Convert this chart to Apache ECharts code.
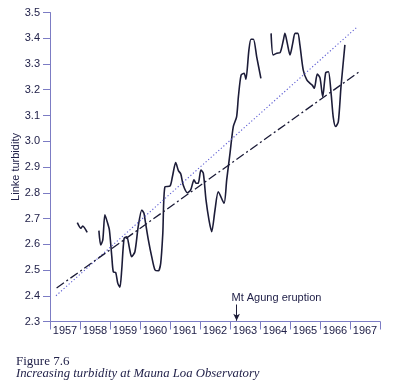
<!DOCTYPE html>
<html><head><meta charset="utf-8">
<script src="https://cdn.jsdelivr.net/npm/echarts@6/dist/echarts.min.js"></script>
<style>html,body{margin:0;padding:0;background:#fff}#c{width:403px;height:388px}</style>
</head><body><div id="c"></div>
<script>
var yearLabels = ['1957','1958','1959','1960','1961','1962','1963','1964','1965','1966','1967'];
var yTicks = [2.3,2.4,2.5,2.6,2.7,2.8,2.9,3.0,3.1,3.2,3.3,3.4,3.5];
// observed Linke turbidity (null = gap in record)
var obsYears = [1957.91,1958.03,1958.09,1958.24,1958.4,
 1958.63,1958.69,1958.76,1958.83,1958.91,1958.98,1959.06,1959.11,1959.19,1959.26,1959.33,1959.39,1959.47,1959.56,1959.64,1959.72,1959.83,1959.94,
 1960.06,1960.13,1960.17,1960.28,1960.39,1960.50,1960.61,1960.69,1960.76,1960.83,1961.00,1961.08,1961.19,1961.28,1961.36,1961.44,1961.58,1961.69,1961.80,1961.87,1961.94,
 1962.03,1962.11,1962.20,1962.30,1962.39,1962.50,1962.61,1962.80,1962.89,1963.00,1963.11,1963.22,1963.28,1963.37,1963.47,1963.53,1963.63,1963.70,1963.78,1963.89,1964.03,1964.2,
 1964.37,1964.44,1964.56,1964.67,1964.78,1964.83,1964.91,1965.00,1965.09,1965.17,1965.26,1965.33,1965.44,1965.56,1965.67,1965.74,1965.81,1965.91,1966.00,1966.09,1966.19,1966.28,1966.37,1966.44,1966.52,1966.61,1966.70,1966.83];
var obsValues = [2.684,2.662,2.671,2.646,null,
 2.653,2.597,2.617,2.714,2.686,2.655,2.552,2.493,2.490,2.448,2.433,2.500,2.623,2.629,2.590,2.552,2.571,2.668,
 2.733,2.721,2.694,2.616,2.552,2.500,2.497,2.526,2.642,2.823,2.826,2.862,2.917,2.886,2.873,2.830,2.800,2.811,2.850,2.837,2.837,
 2.888,2.876,2.772,2.694,2.649,2.733,2.804,2.759,2.850,2.953,3.057,3.095,3.173,3.257,3.264,3.241,3.354,3.396,3.396,3.328,3.244,null,
 3.419,3.335,3.342,3.344,3.393,3.419,3.380,3.335,3.380,3.419,3.419,3.374,3.277,3.238,3.225,3.218,3.206,3.261,3.246,3.173,3.266,3.270,3.186,3.095,3.057,3.075,3.212,3.374];
var dottedTrendYears = [1957.2, 1967.23];
var dottedTrendValues = [2.40, 3.443];
var dashTrendYears = [1957.22, 1967.31];
var dashTrendValues = [2.43, 3.27];
var eruptionYear = 1963.22;

function pairs(xs, ys){ return xs.map(function(x,i){ return [x, ys[i] === null ? '-' : ys[i]]; }); }

var ink = '#1c1c38';
var axisCol = '#7c7cc4';
var chart = echarts.init(document.getElementById('c'), null, {renderer:'canvas'});
chart.setOption({
  animation:false,
  backgroundColor:'#fff',
  grid:{left:50, right:23, top:12.5, bottom:66.5, containLabel:false, outerBoundsMode:'none'},
  xAxis:[{
    type:'category', data:yearLabels, boundaryGap:true, position:'bottom',
    axisLine:{show:true, lineStyle:{color:axisCol, width:1}},
    axisTick:{show:true, length:8, interval:0, lineStyle:{color:axisCol}},
    axisLabel:{color:'#22224a', fontSize:11, fontFamily:'Liberation Sans', margin:4, interval:0, hideOverlap:false},
    splitLine:{show:false}
  },{
    type:'value', min:1957, max:1968, show:false, position:'bottom'
  }],
  yAxis:{
    type:'value', min:2.3, max:3.5, interval:0.1,
    name:'Linke turbidity', nameLocation:'middle', nameGap:29, nameRotate:90, nameMoveOverlap:false,
    nameTextStyle:{color:'#22224a', fontSize:11, fontFamily:'Liberation Sans'},
    axisLine:{show:true, lineStyle:{color:axisCol, width:1}},
    axisTick:{show:true, length:7, lineStyle:{color:axisCol}},
    axisLabel:{color:'#22224a', fontSize:11, fontFamily:'Liberation Sans', margin:10,
      formatter:function(v){ var t = yTicks.find(function(k){return Math.abs(k-v)<1e-6;}); return t===undefined?'':t.toFixed(1); }},
    splitLine:{show:false}
  },
  series:[{
    type:'line', xAxisIndex:1, data:pairs(obsYears, obsValues), connectNulls:false,
    showSymbol:false, smooth:0.25, lineStyle:{color:ink, width:1.6}
  },{
    type:'line', xAxisIndex:1, data:pairs(dottedTrendYears, dottedTrendValues),
    showSymbol:false, lineStyle:{color:'#5a5ad2', width:1.1, type:[1.2,2.2]}
  },{
    type:'line', xAxisIndex:1, data:pairs(dashTrendYears, dashTrendValues),
    showSymbol:false, lineStyle:{color:ink, width:1.3, type:[9,3,2,3]}
  },{
    type:'line', xAxisIndex:1, data:[],
    markLine:{silent:true, symbol:['none','arrow'], symbolSize:[5,7],
      lineStyle:{color:ink, width:1, type:'solid'}, label:{show:false},
      data:[[{coord:[eruptionYear, 2.366]},{coord:[eruptionYear, 2.303]}]]},
    markPoint:{silent:true, symbol:'circle', symbolSize:0,
      label:{show:true, position:'right', distance:0, formatter:'Mt Agung eruption', color:'#22224a', fontSize:11, fontFamily:'Liberation Sans'},
      data:[{coord:[eruptionYear-0.17, 2.391]}]}
  }],
  graphic:[
    {type:'text', left:16, top:355, style:{text:'Figure 7.6', font:'13px "Liberation Serif"', fill:'#22224a'}},
    {type:'text', left:16, top:367, style:{text:'Increasing turbidity at Mauna Loa Observatory', font:'italic 12.75px "Liberation Serif"', fill:'#22224a'}}
  ]
});
</script></body></html>
